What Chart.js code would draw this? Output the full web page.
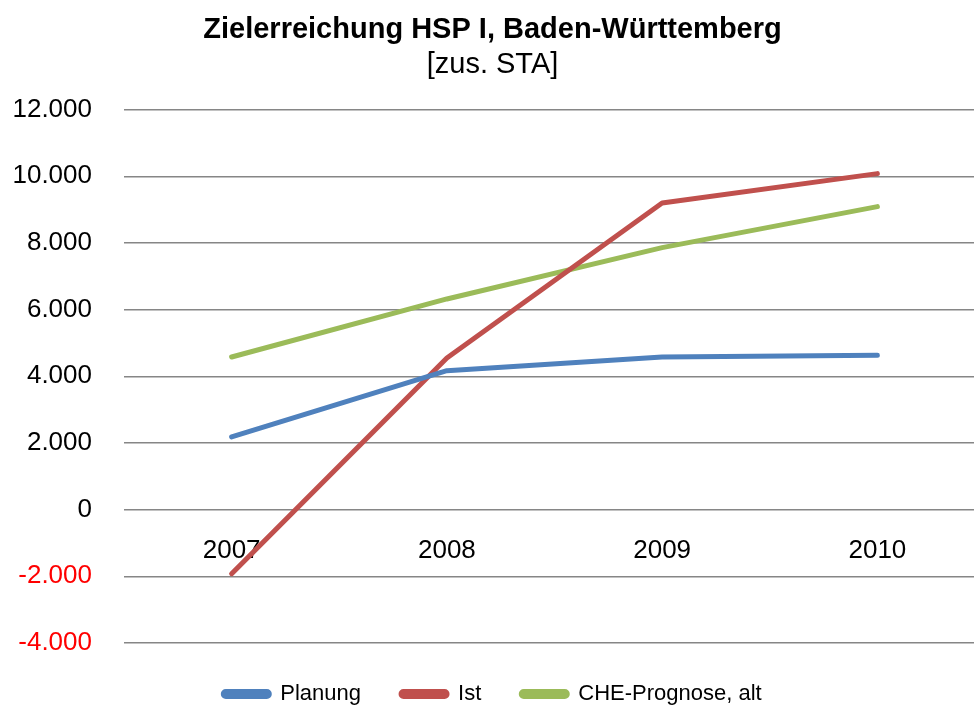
<!DOCTYPE html>
<html>
<head>
<meta charset="utf-8">
<script src="https://cdn.jsdelivr.net/npm/chart.js@4"></script>
<style>
  html, body { margin: 0; padding: 0; background: #fff; overflow: hidden; }
  #wrap { width: 986px; height: 715px; }
</style>
</head>
<body>
<div id="wrap"><canvas id="ziel-grafik"></canvas></div>
<script>
const jahre = ['2007', '2008', '2009', '2010'];
const planung = [2180, 4170, 4580, 4630];
const ist = [-1920, 4550, 9200, 10080];
const cheAlt = [4580, 6320, 7860, 9090];
const yTicks = [-4000, -2000, 0, 2000, 4000, 6000, 8000, 10000, 12000];

const schrift = "'Liberation Sans', Arial, sans-serif";

(function () {
  const ctx = document.getElementById('ziel-grafik');
  new Chart(ctx, {
    type: 'line',
    data: {
      labels: jahre,
      datasets: [
        { label: 'Planung', data: planung, borderColor: '#4f81bd', backgroundColor: '#4f81bd' },
        { label: 'Ist', data: ist, borderColor: '#c0504d', backgroundColor: '#c0504d' },
        { label: 'CHE-Prognose, alt', data: cheAlt, borderColor: '#9bbb59', backgroundColor: '#9bbb59' }
      ]
    },
    options: {
      responsive: true,
      maintainAspectRatio: false,
      animation: false,
      layout: { padding: { left: 0, right: 1, top: 0, bottom: 0 } },
      elements: {
        line: { borderWidth: 5, tension: 0, borderCapStyle: 'round', borderJoinStyle: 'round' },
        point: { radius: 0, hoverRadius: 0 }
      },
      scales: {
        x: {
          position: { y: 0 },
          offset: true,
          grid: { display: false, drawTicks: false },
          border: { display: false },
          ticks: { color: '#000', font: { family: schrift, size: 26 }, padding: 26, maxRotation: 0 }
        },
        y: {
          min: -4000,
          max: 12000,
          afterBuildTicks: axis => { axis.ticks = yTicks.map(v => ({ value: v })); },
          afterFit: axis => { axis.width = 124; },
          grid: { color: '#868686', lineWidth: 1.5, drawTicks: false },
          border: { display: false },
          ticks: {
            padding: 32,
            font: { family: schrift, size: 26 },
            color: c => c.tick.value < 0 ? '#ff0000' : '#000',
            callback: v => v.toLocaleString('de-DE')
          }
        }
      },
      plugins: {
        title: {
          display: true,
          text: 'Zielerreichung HSP I, Baden-Württemberg',
          color: '#000',
          font: { family: schrift, size: 29, weight: 'bold' },
          padding: { top: 13, bottom: 0 }
        },
        subtitle: {
          display: true,
          text: '[zus. STA]',
          color: '#000',
          font: { family: schrift, size: 29 },
          padding: { top: 0, bottom: 27 }
        },
        legend: {
          position: 'bottom',
          labels: {
            color: '#000',
            font: { family: schrift, size: 22 },
            boxWidth: 46,
            boxHeight: 5,
            useBorderRadius: true,
            borderRadius: 2.5,
            padding: 40
          }
        },
        tooltip: { enabled: false }
      }
    }
  });
})();
</script>
</body>
</html>
